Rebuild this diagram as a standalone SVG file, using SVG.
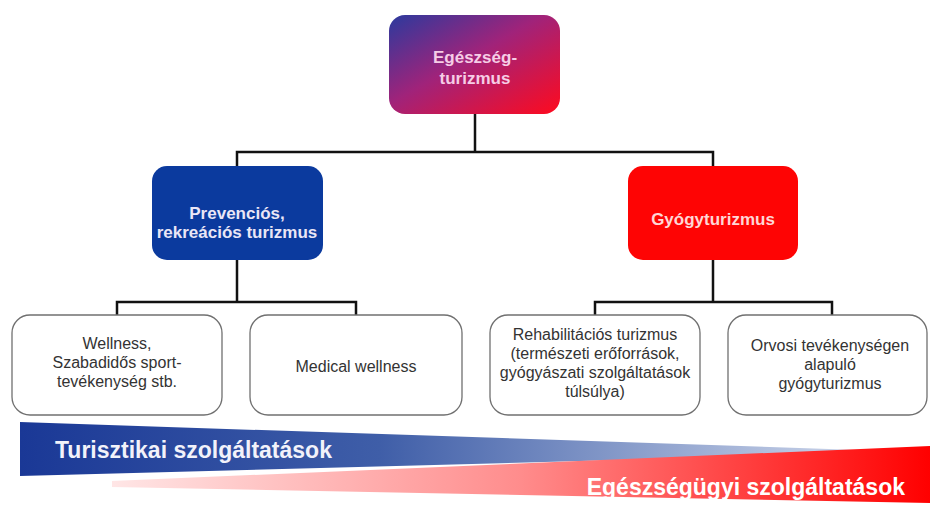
<svg xmlns="http://www.w3.org/2000/svg" width="930" height="506" viewBox="0 0 930 506">
<defs>
<linearGradient id="gTop" x1="0" y1="0" x2="1" y2="1">
<stop offset="0" stop-color="#2b3a9e"/>
<stop offset="0.45" stop-color="#a0237a"/>
<stop offset="1" stop-color="#ff0a1e"/>
</linearGradient>
<linearGradient id="gBlue" x1="0" y1="0" x2="1" y2="0">
<stop offset="0" stop-color="#1a3896"/>
<stop offset="0.4" stop-color="#3f5ea8"/>
<stop offset="1" stop-color="#dde4f2"/>
</linearGradient>
<linearGradient id="gRed" x1="0" y1="0" x2="1" y2="0">
<stop offset="0" stop-color="#ffe6e6"/>
<stop offset="0.5" stop-color="#ff8c8c"/>
<stop offset="1" stop-color="#ff0000"/>
</linearGradient>
<style>
.lvl1 text{font-family:"Liberation Sans",Arial,sans-serif;font-weight:bold;font-size:17px;text-anchor:middle}
.leaf rect{fill:#fff;stroke:#707070;stroke-width:1.3}
.leaf text{font-family:"Liberation Sans",Arial,sans-serif;font-size:16px;fill:#333;text-anchor:middle}
.conn{fill:none;stroke:#111;stroke-width:2.5}
.band{font-family:"Liberation Sans",Arial,sans-serif;font-weight:bold;font-size:23px}
</style>
</defs>
<rect width="930" height="506" fill="#fff"/>

<g id="connectors">
<path class="conn" d="M475 114 V152 M237 166 V152 H713 V166"/>
<path class="conn" d="M237 260 V302 M117 315 V302 H356 V315"/>
<path class="conn" d="M713 260 V302 M595 315 V302 H832 V315"/>
</g>

<g id="egeszsegturizmus" class="lvl1">
<rect x="389" y="15" width="171" height="99" rx="16" fill="url(#gTop)"/>
<text x="475" y="63" fill="#f6cde6">Egészség-</text>
<text x="475" y="84" fill="#f6cde6">turizmus</text>
</g>

<g id="prevencios" class="lvl1">
<rect x="152" y="166" width="171" height="94" rx="15" fill="#0b3a9e"/>
<text x="237" y="219" fill="#eae6f6">Prevenciós,</text>
<text x="237" y="238" fill="#eae6f6">rekreációs turizmus</text>
</g>

<g id="gyogyturizmus" class="lvl1">
<rect x="628" y="166" width="170" height="94" rx="15" fill="#fe0404"/>
<text x="713" y="225" fill="#ffd6d6">Gyógyturizmus</text>
</g>

<g id="wellness" class="leaf">
<rect x="12" y="315" width="210" height="100" rx="18"/>
<text x="117" y="349">Wellness,</text>
<text x="117" y="368">Szabadidős sport-</text>
<text x="117" y="387">tevékenység stb.</text>
</g>

<g id="medical-wellness" class="leaf">
<rect x="250" y="315" width="212" height="100" rx="18"/>
<text x="356" y="372">Medical wellness</text>
</g>

<g id="rehabilitacios" class="leaf">
<rect x="490" y="315" width="210" height="100" rx="18"/>
<text x="595" y="340">Rehabilitációs turizmus</text>
<text x="595" y="359">(természeti erőforrások,</text>
<text x="595" y="378">gyógyászati szolgáltatások</text>
<text x="595" y="397">túlsúlya)</text>
</g>

<g id="orvosi" class="leaf">
<rect x="728" y="315" width="199" height="100" rx="18"/>
<text x="830" y="351">Orvosi tevékenységen</text>
<text x="830" y="370">alapuló</text>
<text x="830" y="389">gyógyturizmus</text>
</g>

<polygon points="20,422 918,452 20,476" fill="url(#gBlue)"/>
<polygon points="112,481 930,446 930,503 112,487" fill="url(#gRed)"/>
<text class="band" x="55" y="458" fill="#f2f2fa">Turisztikai szolgáltatások</text>
<text class="band" x="905" y="495" fill="#ffffff" text-anchor="end">Egészségügyi szolgáltatások</text>
</svg>
